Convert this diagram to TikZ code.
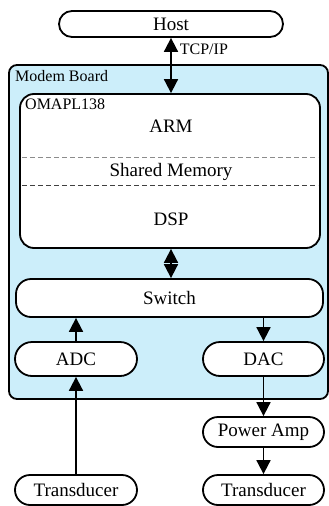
\documentclass[tikz,border=0pt]{standalone}
\usepackage{fontspec}
\setmainfont{Liberation Serif}
\usetikzlibrary{arrows.meta}
\definecolor{boardblue}{RGB}{204,238,250}
\tikzset{
  box/.style={draw=black, line width=1.8pt, fill=white, inner sep=0pt, font=\rmfamily\fontsize{19}{22}\selectfont},
  lbl/.style={inner sep=0pt, font=\rmfamily\fontsize{16}{18}\selectfont},
  txt/.style={inner sep=0pt, font=\rmfamily\fontsize{19}{22}\selectfont},
  tip/.tip={Triangle[width=14pt,length=14pt]},
  conn/.style={line width=1.8pt, -tip},
  bconn/.style={line width=1.8pt, tip-tip},
  sep/.style={dashed, dash pattern=on 5pt off 3pt, line width=0.8pt}
}
\begin{document}
\begin{tikzpicture}[x=1pt,y=-1pt]
\useasboundingbox (0,0) rectangle (329,506);
% board
\node[draw=black, line width=1.8pt, fill=boardblue, rounded corners=8pt, minimum width=319pt, minimum height=334pt, inner sep=0pt] (board) at (168.5,232) {};
\node[lbl, anchor=west] (boardlbl) at (15,76) {Modem Board};
% host
\node[box, rounded corners=13pt, minimum width=224pt, minimum height=26pt] (host) at (171,24) {Host};
% OMAPL
\node[box, rounded corners=14pt, minimum width=300pt, minimum height=154pt] (omap) at (170,171) {};
\node[lbl, anchor=west] (omaplbl) at (25,104) {OMAPL138};
\node[txt] (arm) at (171,126) {ARM};
\node[txt] (shm) at (171,172) {Shared Memory};
\node[txt] (dsp) at (171,219) {DSP};
\coordinate (d1l) at (22,157); \coordinate (d1r) at (318,157);
\coordinate (d2l) at (22,185); \coordinate (d2r) at (318,185);
\draw[sep, draw=black!45] (d1l) -- (d1r);
\draw[sep, draw=black!75] (d2l) -- (d2r);
% switch
\node[box, rounded corners=15pt, minimum width=307pt, minimum height=38pt] (sw) at (169.5,298) {Switch};
% ADC DAC
\node[box, rounded corners=17pt, minimum width=122pt, minimum height=34pt] (adc) at (76,359) {ADC};
\node[box, rounded corners=17pt, minimum width=121pt, minimum height=34pt] (dac) at (263.5,359) {DAC};
% power amp
\node[box, rounded corners=15pt, minimum width=121pt, minimum height=30pt] (pa) at (263.5,432) {Power Amp};
% transducers
\node[box, rounded corners=15pt, minimum width=122pt, minimum height=30pt] (tl) at (76,490) {Transducer};
\node[box, rounded corners=15pt, minimum width=121pt, minimum height=30pt] (tr) at (263.5,490) {Transducer};
% connectors
\draw[bconn] (host.south) -- (host.south |- omap.north) node[lbl, pos=0.2, anchor=west, xshift=8pt] (tcp) {TCP/IP};
\draw[bconn] (host.south |- omap.south) -- (host.south |- sw.north);
\draw[conn] (adc.north) -- (adc.north |- sw.south);
\draw[conn] (dac.north |- sw.south) -- (dac.north);
\draw[conn] (tl.north) -- (adc.south);
\draw[conn] (dac.south) -- (pa.north);
\draw[conn] (pa.south) -- (tr.north);
\end{tikzpicture}
\end{document}
